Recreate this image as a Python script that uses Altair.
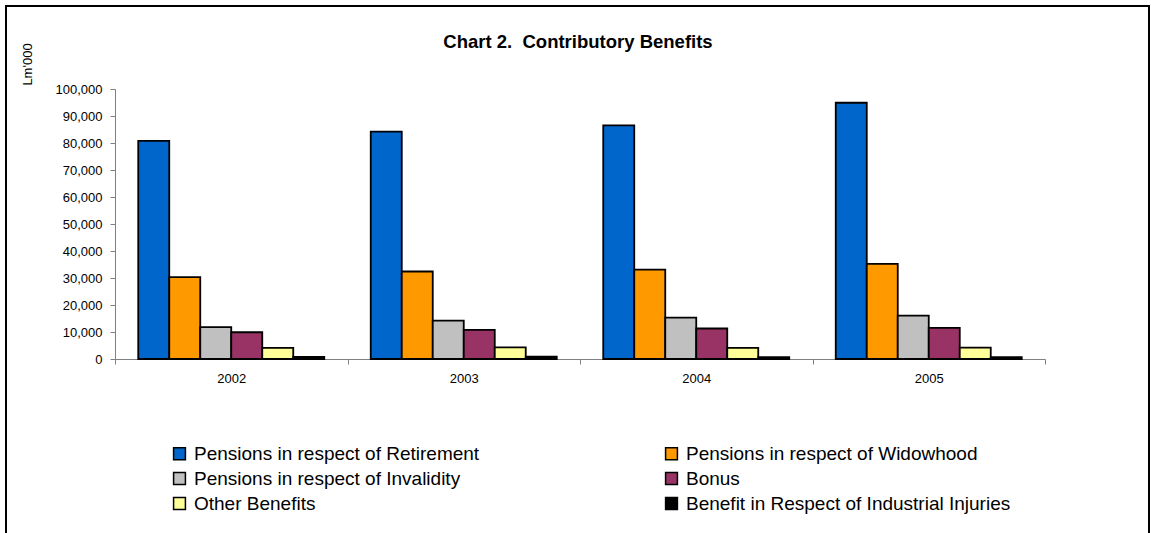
import altair as alt
import pandas as pd

years = ["2002", "2003", "2004", "2005"]
series = [
    "Pensions in respect of Retirement",
    "Pensions in respect of Widowhood",
    "Pensions in respect of Invalidity",
    "Bonus",
    "Other Benefits",
    "Benefit in Respect of Industrial Injuries",
]
retirement = [80800, 84200, 86500, 94900]
widowhood = [30300, 32400, 33100, 35200]
invalidity = [11800, 14200, 15300, 16100]
bonus = [9900, 10800, 11300, 11500]
other = [4100, 4300, 4100, 4200]
injuries = [800, 900, 700, 700]
colors = ["#0066CC", "#FF9900", "#C0C0C0", "#993366", "#FFFF99", "#000000"]
title_text = "Chart 2.\u00a0 Contributory Benefits"

values = [retirement, widowhood, invalidity, bonus, other, injuries]
rows = []
for s, vals in zip(series, values):
    for y, v in zip(years, vals):
        rows.append({"Year": y, "Series": s, "Value": v})
df = pd.DataFrame(rows)

FONT = "Liberation Sans"

bars = alt.Chart(df).mark_bar(stroke="black", strokeWidth=1.8).encode(
    x=alt.X("Year:N", title=None,
            scale=alt.Scale(paddingInner=0, paddingOuter=0),
            axis=alt.Axis(labelAngle=0, tickBand="extent", tickSize=5,
                          labelPadding=8, labelFontSize=13, labelFont=FONT,
                          labelColor="black", domainColor="#808080",
                          tickColor="#808080")),
    xOffset=alt.XOffset("Series:N", sort=series,
                        scale=alt.Scale(paddingInner=0, paddingOuter=0.75)),
    y=alt.Y("Value:Q",
            scale=alt.Scale(domain=[0, 100000], nice=False),
            axis=alt.Axis(values=list(range(0, 100001, 10000)), format=",.0f",
                          grid=False, tickSize=5, labelPadding=8,
                          labelFontSize=13, labelFont=FONT, labelColor="black",
                          domainColor="#808080", tickColor="#808080",
                          title="Lm'000", titleFont=FONT, titleFontSize=13,
                          titleFontWeight="normal", titleAngle=270,
                          titleAlign="center", titleBaseline="middle",
                          titleX=-88, titleY=-25, titleColor="black")),
    color=alt.Color("Series:N", sort=series,
                    scale=alt.Scale(domain=series, range=colors),
                    legend=alt.Legend(title=None, orient="none", legendX=55,
                                      legendY=355, columns=2, columnPadding=182,
                                      direction="horizontal",
                                      rowPadding=5, symbolType="square",
                                      symbolSize=140, symbolStrokeColor="black",
                                      symbolStrokeWidth=1.5, labelFont=FONT,
                                      labelFontSize=19, labelColor="black",
                                      labelOffset=5, labelLimit=500)),
)

one = pd.DataFrame({"a": [0]})

frame = alt.Chart(one).mark_rect(
    fill=None, stroke="black", strokeWidth=2
).encode(
    x=alt.value(-109), x2=alt.value(1034),
    y=alt.value(-83), y2=alt.value(460),
)

title = alt.Chart(one).mark_text(
    font=FONT, fontSize=18.5, fontWeight="bold", color="black",
    align="center", baseline="alphabetic"
).encode(
    x=alt.value(463), y=alt.value(-41), text=alt.value(title_text)
)

chart = alt.layer(bars, frame, title).properties(
    width=930, height=270,
    background="white",
    autosize=alt.AutoSizeParams(type="none"),
    padding={"left": 115, "top": 89, "right": 106, "bottom": 174},
).configure_view(stroke=None)

chart.save("out.html", embed_options={"renderer": "svg", "actions": False})
